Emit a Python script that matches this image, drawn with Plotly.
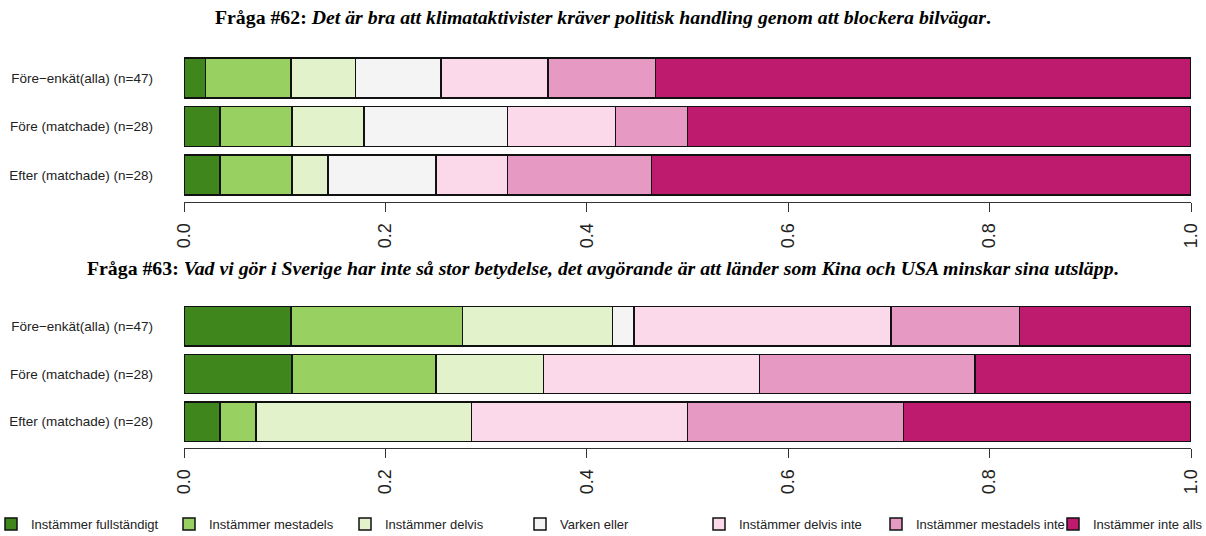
import plotly.graph_objects as go

categories = ["Instämmer fullständigt", "Instämmer mestadels", "Instämmer delvis",
              "Varken eller", "Instämmer delvis inte", "Instämmer mestadels inte",
              "Instämmer inte alls"]
colors = ["#3f861c", "#98d062", "#e2f3cb", "#f4f4f4", "#fbd8ea", "#e699c2", "#bf1b6e"]
groups = ["Före−enkät(alla) (n=47)", "Före (matchade) (n=28)", "Efter (matchade) (n=28)"]
group_n = [47, 28, 28]

# counts per group (rows) per category (cols)
q62_counts = [
    [1, 4, 3, 4, 5, 5, 25],
    [1, 2, 2, 4, 3, 2, 14],
    [1, 2, 1, 3, 2, 4, 15],
]
q63_counts = [
    [5, 8, 7, 1, 12, 6, 8],
    [3, 4, 3, 0, 6, 6, 6],
    [1, 1, 6, 0, 6, 6, 8],
]
titles = [
    "<b>Fråga #62:</b> <b><i>Det är bra att klimataktivister kräver politisk handling genom att blockera bilvägar</i>.</b>",
    "<b>Fråga #63:</b> <b><i>Vad vi gör i Sverige har inte så stor betydelse, det avgörande är att länder som Kina och USA minskar sina utsläpp</i>.</b>",
]
x_ticks = [0.0, 0.2, 0.4, 0.6, 0.8, 1.0]

W, H = 1206, 536
L, R = 184, 1191
PW = R - L
legend_sym_px = [17, 195, 371, 546, 725, 902, 1079]

fig = go.Figure()
for qi, counts in enumerate([q62_counts, q63_counts]):
    xa = "x" if qi == 0 else "x2"
    ya = "y" if qi == 0 else "y2"
    for ci, cat in enumerate(categories):
        shares = [counts[gi][ci] / group_n[gi] for gi in range(len(groups))]
        fig.add_trace(go.Bar(
            y=groups, x=shares, orientation="h", name=cat,
            marker=dict(color=colors[ci], line=dict(color="#111111", width=1.5)),
            width=0.82, xaxis=xa, yaxis=ya, legendgroup=cat, cliponaxis=False,
            legend="legend" if ci == 0 else f"legend{ci + 1}",
            showlegend=(qi == 0), hoverinfo="name+x",
        ))

def ydom(top_px, bot_px):
    return [1 - bot_px / H, 1 - top_px / H]

xcommon = dict(range=[0, 1], tickvals=x_ticks, tickformat=".1f",
               tickangle=-90, ticks="outside", ticklen=9, tickwidth=1.2,
               tickcolor="#333", showline=True, linecolor="#333", linewidth=1.2,
               showgrid=False, zeroline=False, ticklabelstandoff=4,
               tickfont=dict(family="Liberation Sans, Arial", size=18, color="#222"))
ycommon = dict(range=[2.55, -0.55], type="category", showgrid=False, zeroline=False,
               ticks="", ticklabelstandoff=30,
               tickfont=dict(family="Liberation Sans, Arial", size=13.5, color="#222"))

layout = dict(
    barmode="stack",
    width=W, height=H,
    margin=dict(l=L, r=W - R, t=0, b=0, autoexpand=False),
    paper_bgcolor="white", plot_bgcolor="white",
    xaxis=dict(domain=[0, 1], anchor="y", **xcommon),
    yaxis=dict(domain=ydom(51, 202), anchor="x", **ycommon),
    xaxis2=dict(domain=[0, 1], anchor="y2", **xcommon),
    yaxis2=dict(domain=ydom(300, 448), anchor="x2", **ycommon),
    showlegend=True,
)
for ci in range(len(categories)):
    key = "legend" if ci == 0 else f"legend{ci + 1}"
    layout[key] = dict(
        orientation="h", x=(legend_sym_px[ci] - 26 - L) / PW, xanchor="left",
        y=1 - 524 / H, yanchor="middle", itemwidth=30,
        font=dict(family="Liberation Sans, Arial", size=13, color="#222"),
        bgcolor="rgba(0,0,0,0)")
fig.update_layout(**layout)

for t, ypx in zip(titles, [17, 268]):
    fig.add_annotation(text=t, xref="paper", yref="paper",
                       x=(603 - L) / PW, y=1 - ypx / H, xanchor="center", yanchor="middle",
                       showarrow=False,
                       font=dict(family="Liberation Serif, Times New Roman", size=19.8, color="black"))

fig.write_html("out.html", config={"displayModeBar": False},
               post_script="document.body.style.margin='0px';")
